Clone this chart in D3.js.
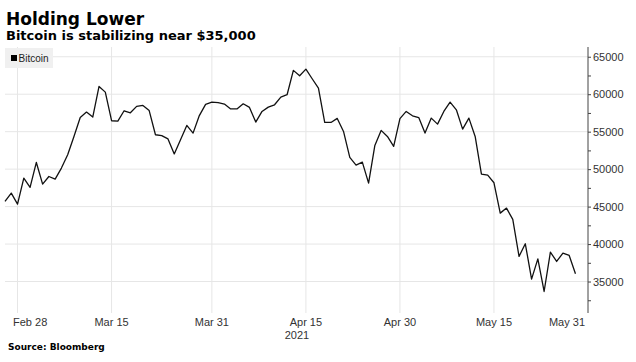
<!DOCTYPE html>
<html>
<head>
<meta charset="utf-8">
<script src="https://cdn.jsdelivr.net/npm/d3@7"></script>
<style>
  body { margin: 0; background: #fff; }
  svg { display: block; }
</style>
</head>
<body>
<div id="chart"></div>
<script>
// daily closes, starting Feb 26 2021
const startDate = new Date(2021, 1, 26);
const btcValues = [
  45690, 46800, 45330, 48800, 47560, 50890, 48000, 49020, 48670, 50140,
  51920, 54360, 56900, 57610, 56950, 61040, 60280, 56460, 56400, 57790,
  57520, 58370, 58500, 57810, 54590, 54480, 54030, 52030, 53920, 55830,
  54810, 57150, 58650, 58930, 58880, 58680, 58040, 58030, 58720, 58240,
  56280, 57700, 58280, 58590, 59620, 59930, 63180, 62460, 63350, 62060,
  60820, 56230, 56230, 56770, 55030, 51560, 50540, 50940, 48140, 53160,
  55170, 54360, 53030, 56750, 57700, 57120, 56880, 54810, 56810, 56010,
  57700, 58950, 57920, 55340, 56810, 54360, 49340, 49200, 48180, 44130,
  44800, 43290, 38350, 40040, 35320, 38030, 33670, 38920, 37680, 38790,
  38480, 36030
];
const yTicks = [35000, 40000, 45000, 50000, 55000, 60000, 65000];
const xTickDates = [
  new Date(2021, 1, 28), new Date(2021, 2, 15), new Date(2021, 2, 31),
  new Date(2021, 3, 15), new Date(2021, 3, 30), new Date(2021, 4, 15)
];
const lastLabel = "May 31";
const yearLabel = "2021";

const w = 636;
const h = 362;
const plotLeft = 5;
const plotRight = 588;
const plotTop = 47;
const plotBottom = 313;

const svg = d3.select("#chart").append("svg").attr("width", w).attr("height", h);

const data = btcValues.map((v, i) => ({ date: d3.timeDay.offset(startDate, i), value: v }));

const x = d3.scaleTime()
  .domain([startDate, new Date(2021, 4, 30)])
  .range([plotLeft, plotRight]);

const y = d3.scaleLinear()
  .domain([30800, 66300])
  .range([plotBottom, plotTop]);

// titles
svg.append("text")
  .text("Holding Lower")
  .attr("x", 6).attr("y", 25)
  .attr("font-family", "DejaVu Sans").attr("font-weight", "bold")
  .attr("font-size", "17px").attr("fill", "#000");

svg.append("text")
  .text("Bitcoin is stabilizing near $35,000")
  .attr("x", 6).attr("y", 40)
  .attr("font-family", "DejaVu Sans").attr("font-weight", "bold")
  .attr("font-size", "13px").attr("fill", "#000");

// grid
svg.append("g")
  .selectAll("line")
  .data(yTicks)
  .join("line")
  .attr("x1", plotLeft).attr("x2", plotRight)
  .attr("y1", d => y(d)).attr("y2", d => y(d))
  .attr("stroke", "#e6e6e6").attr("stroke-width", 1);

svg.append("g")
  .selectAll("line")
  .data(xTickDates)
  .join("line")
  .attr("x1", d => x(d)).attr("x2", d => x(d))
  .attr("y1", plotTop).attr("y2", plotBottom)
  .attr("stroke", "#e6e6e6").attr("stroke-width", 1);

// legend
svg.append("rect")
  .attr("x", 5).attr("y", 48).attr("width", 48).attr("height", 20)
  .attr("fill", "#f0f0f0");
svg.append("rect")
  .attr("x", 11).attr("y", 55).attr("width", 6).attr("height", 6)
  .attr("fill", "#000");
svg.append("text")
  .text("Bitcoin")
  .attr("x", 18.5).attr("y", 61.5)
  .attr("font-family", "Liberation Sans").attr("font-size", "10px")
  .attr("fill", "#222");

// right axis
const yAxis = d3.axisRight(y)
  .tickValues(d3.range(32500, 66000, 2500))
  .tickSize(3)
  .tickPadding(2)
  .tickFormat(d => (d % 5000 === 0 ? d : ""));

const yAxisG = svg.append("g")
  .attr("transform", "translate(" + plotRight + ",0)")
  .call(yAxis);
yAxisG.select(".domain").attr("d", "M0," + plotTop + "V" + plotBottom).attr("stroke", "#444");
yAxisG.selectAll(".tick line").attr("stroke", "#444");
yAxisG.selectAll(".tick text")
  .attr("font-family", "Liberation Sans").attr("font-size", "11px")
  .attr("fill", "#333");

// x labels
const fmt = d3.timeFormat("%b %-d");
svg.append("g")
  .selectAll("text")
  .data(xTickDates)
  .join("text")
  .text(d => fmt(d))
  .attr("x", (d, i) => (i === 0 ? x(d) - 4.5 : x(d)))
  .attr("y", 325.5)
  .attr("text-anchor", (d, i) => (i === 0 ? "start" : "middle"))
  .attr("font-family", "Liberation Sans").attr("font-size", "11px")
  .attr("fill", "#333");

svg.append("text")
  .text(lastLabel)
  .attr("x", 585).attr("y", 325.5)
  .attr("text-anchor", "end")
  .attr("font-family", "Liberation Sans").attr("font-size", "11px")
  .attr("fill", "#333");

svg.append("text")
  .text(yearLabel)
  .attr("x", x(xTickDates[3]) - 9).attr("y", 338.5)
  .attr("text-anchor", "middle")
  .attr("font-family", "Liberation Sans").attr("font-size", "11px")
  .attr("fill", "#333");

// line
const line = d3.line()
  .x(d => x(d.date))
  .y(d => y(d.value));

svg.append("path")
  .datum(data)
  .attr("d", line)
  .attr("fill", "none")
  .attr("stroke", "#111")
  .attr("stroke-width", 1.3)
  .attr("stroke-linejoin", "round");

// source
svg.append("text")
  .text("Source: Bloomberg")
  .attr("x", 8).attr("y", 350)
  .attr("font-family", "DejaVu Sans").attr("font-weight", "bold")
  .attr("font-size", "9px").attr("fill", "#000");
</script>
</body>
</html>
